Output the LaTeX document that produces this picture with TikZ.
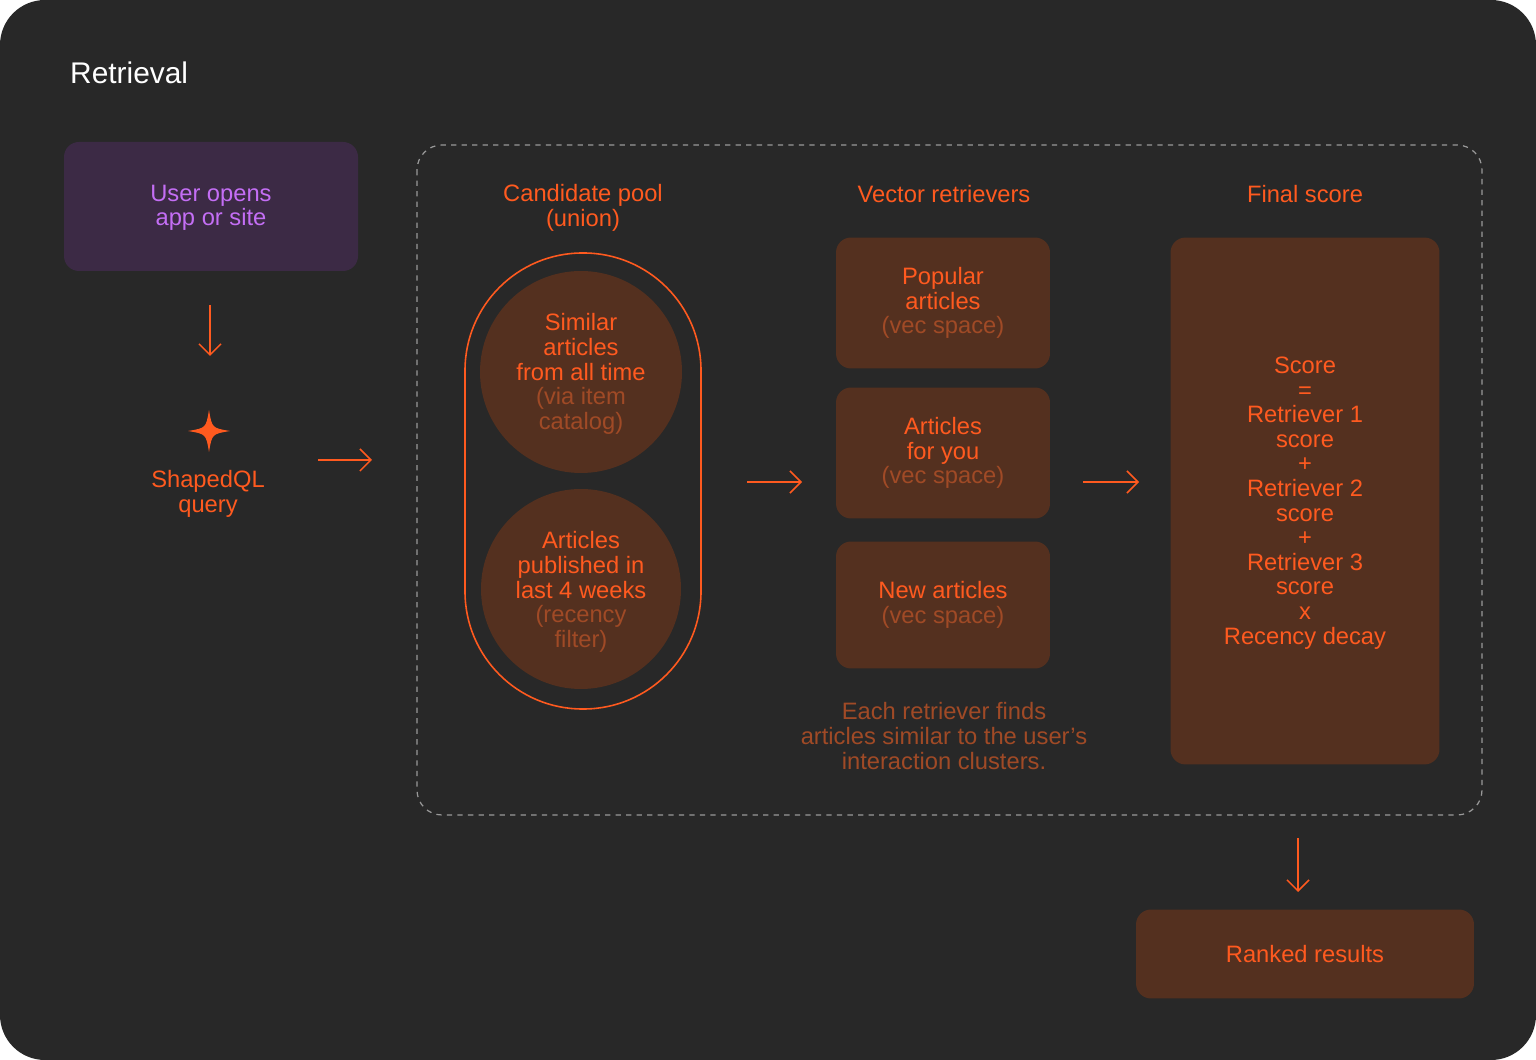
\documentclass[tikz,border=0pt]{standalone}
\usepackage{fontspec}
\setmainfont{Liberation Sans}
\usetikzlibrary{positioning,arrows.meta}
\definecolor{bgdark}{HTML}{282828}
\definecolor{hot}{HTML}{FF5A1F}
\definecolor{boxfill}{HTML}{54301F}
\definecolor{muted}{HTML}{A04A26}
\definecolor{purpfill}{HTML}{3C2A45}
\definecolor{purptext}{HTML}{C46EF5}
\newcommand{\mut}[1]{\textcolor{muted}{#1}}

\begin{document}
\begin{tikzpicture}[x=0.02cm, y=-0.02cm, text centered,
  every node/.style={font=\fontsize{13.5}{14}\selectfont, align=center},
  card/.style={rectangle, fill=boxfill, rounded corners=0.3cm, text=hot, inner sep=0pt},
  head/.style={text=hot},
  flow/.style={->, hot, line width=0.9pt, -{Straight Barb[length=2.2mm, width=4.4mm]}}]
  % Background
  \fill[white] (0,0) rectangle (1536,1060);
  \useasboundingbox (0,0) rectangle (1536,1060);
  \fill[bgdark, rounded corners=0.9cm] (0,0) rectangle (1536,1060);
  \node[anchor=west, text=white, font=\fontsize{17}{18}\selectfont] (title) at (64,73) {Retrieval};

  % Input
  \fill[purpfill, rounded corners=0.3cm] (64,142) rectangle (358,271);
  \node[text=purptext] (user) at (211,208) {User opens\\app or site};
  \fill[hot] (209,410) .. controls (212,428) .. (230,431) .. controls (212,434) .. (209,452)
    .. controls (206,434) .. (188,431) .. controls (206,428) .. (209,410) -- cycle;
  \node[text=hot] (query) at (208,494) {ShapedQL\\query};
  \coordinate (u1) at (210,305); \coordinate (u2) at (210,356);
  \coordinate (q1) at (318,460); \coordinate (q2) at (372,460);

  % Pipeline frame
  \draw[gray!80, dashed, line width=0.7pt, rounded corners=0.5cm] (417,145) rectangle (1482,815);

  % Candidate pool
  \node[head] (poolhead) at (583,208) {Candidate pool\\(union)};
  \draw[hot, line width=0.9pt, rounded corners=2.35cm] (465,253) rectangle (701,709);
  \fill[boxfill] (581,372) circle (101);
  \fill[boxfill] (581,589) circle (100);
  \node[text=hot] (similar) at (581,374) {Similar\\articles\\from all time\\\mut{(via item}\\\mut{catalog)}};
  \node[text=hot] (recent) at (581,592) {Articles\\published in\\last 4 weeks\\\mut{(recency}\\\mut{filter)}};
  \coordinate (p1) at (747,482); \coordinate (p2) at (802,482);

  % Vector retrievers
  \node[head] (vechead) at (944,194) {Vector retrievers};
  \node[card, minimum width=4.28cm, minimum height=2.62cm] (popular) at (943,303) {Popular\\articles\\\mut{(vec space)}};
  \node[card, minimum width=4.28cm, minimum height=2.62cm] (foryou) at (943,453) {Articles\\for you\\\mut{(vec space)}};
  \node[card, minimum width=4.28cm, minimum height=2.54cm] (newart) at (943,605) {New articles\\\mut{(vec space)}};
  \node[text=muted] (note) at (944,736) {Each retriever finds\\articles similar to the user's\\interaction clusters.};
  \coordinate (v1) at (1083,482); \coordinate (v2) at (1139,482);

  % Final score
  \node[head] (finalhead) at (1305,194) {Final score};
  \node[card, minimum width=5.38cm, minimum height=10.54cm] (score) at (1305,501) {};
  \node[text=hot] (formula) at (1305,503) {Score\\=\\Retriever 1\\score\\+\\Retriever 2\\score\\+\\Retriever 3\\score\\x\\Recency decay};
  \coordinate (s1) at (1298,838); \coordinate (s2) at (1298,892);

  % Output
  \node[card, minimum width=6.76cm, minimum height=1.78cm] (ranked) at (1305,954) {Ranked results};

  % Arrows
  \draw[flow] (u1) -- (u2);
  \draw[flow] (q1) -- (q2);
  \draw[flow] (p1) -- (p2);
  \draw[flow] (v1) -- (v2);
  \draw[flow] (s1) -- (s2);
\end{tikzpicture}
\end{document}
